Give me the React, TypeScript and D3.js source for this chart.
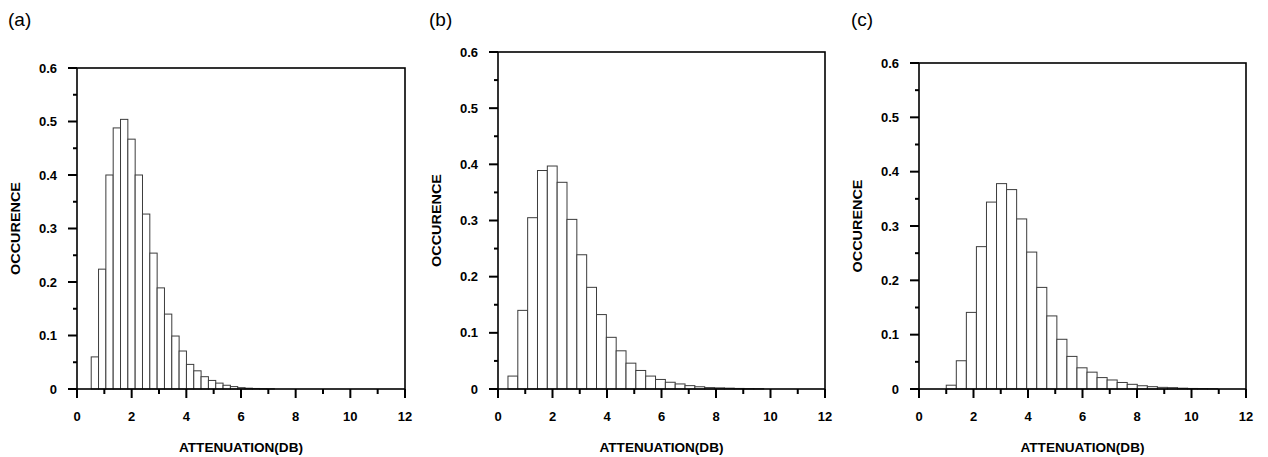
import React, { useEffect, useRef } from 'react';
import * as d3 from 'd3';

// histogram heights
const occurrenceA = [0.06, 0.224, 0.4, 0.488, 0.504, 0.467, 0.4, 0.327, 0.254, 0.189, 0.14, 0.099, 0.071, 0.046, 0.034, 0.023, 0.016, 0.011, 0.007, 0.0045, 0.0025, 0.0015, 0.001, 0.0006, 0.0004];
const occurrenceB = [0.023, 0.14, 0.305, 0.389, 0.397, 0.368, 0.302, 0.239, 0.181, 0.1325, 0.092, 0.068, 0.046, 0.033, 0.023, 0.017, 0.012, 0.009, 0.006, 0.004, 0.0025, 0.002, 0.0015, 0.001, 0.0007, 0.0005];
const occurrenceC = [0.007, 0.052, 0.141, 0.262, 0.344, 0.378, 0.367, 0.313, 0.252, 0.187, 0.1345, 0.0915, 0.06, 0.039, 0.031, 0.021, 0.0166, 0.012, 0.0086, 0.006, 0.0043, 0.003, 0.0025, 0.0015, 0.001, 0.0008, 0.0005];

// first bin edge and bin width (dB) of each histogram
const binStarts = [0.52, 0.366, 1.0];
const binWidths = [0.268, 0.361, 0.369];

const panelLabels = ['(a)', '(b)', '(c)'];
const xTicks = [0, 1, 2, 3, 4, 5, 6, 7, 8, 9, 10, 11, 12];
const yTicks = [0, 0.05, 0.1, 0.15, 0.2, 0.25, 0.3, 0.35, 0.4, 0.45, 0.5, 0.55, 0.6];
const xTitle = 'ATTENUATION(DB)';
const yTitle = 'OCCURENCE';

const App = () => {
  const svgRef = useRef(null);

  useEffect(() => {
    const svg = d3.select(svgRef.current);
    svg.selectAll('*').remove();

    const series = [occurrenceA, occurrenceB, occurrenceC];
    // plot boxes: left, right, top, bottom
    const boxes = [
      { l: 77, r: 405, t: 68, b: 389, lx: 8 },
      { l: 498, r: 825, t: 52, b: 389, lx: 429 },
      { l: 919, r: 1246, t: 63, b: 389, lx: 851 },
    ];
    const font = '"Liberation Sans", Arial, sans-serif';

    series.forEach((vals, i) => {
      const box = boxes[i];
      const x = d3.scaleLinear().domain([0, 12]).range([box.l, box.r]);
      const y = d3.scaleLinear().domain([0, 0.6]).range([box.b, box.t]);
      const g = svg.append('g');

      // bars
      g.selectAll('rect.bar')
        .data(vals)
        .enter()
        .append('rect')
        .attr('class', 'bar')
        .attr('x', (d, j) => x(binStarts[i] + j * binWidths[i]))
        .attr('y', d => y(d))
        .attr('width', x(binWidths[i]) - x(0))
        .attr('height', d => y(0) - y(d))
        .attr('fill', 'white')
        .attr('stroke', '#3c3c3c')
        .attr('stroke-width', 1);

      // frame
      g.append('rect')
        .attr('x', box.l)
        .attr('y', box.t)
        .attr('width', box.r - box.l)
        .attr('height', box.b - box.t)
        .attr('fill', 'none')
        .attr('stroke', '#000')
        .attr('stroke-width', 1.6);

      // x ticks
      g.selectAll('line.xt')
        .data(xTicks)
        .enter()
        .append('line')
        .attr('x1', d => x(d))
        .attr('x2', d => x(d))
        .attr('y1', box.b)
        .attr('y2', d => box.b + (d % 2 === 0 ? 9 : 5))
        .attr('stroke', '#000')
        .attr('stroke-width', 2);

      g.selectAll('text.xl')
        .data(xTicks.filter(d => d % 2 === 0))
        .enter()
        .append('text')
        .attr('x', d => x(d))
        .attr('y', box.b + 32)
        .attr('text-anchor', 'middle')
        .attr('font-family', font)
        .attr('font-weight', 'bold')
        .attr('font-size', 13)
        .text(d => d);

      // y ticks
      g.selectAll('line.yt')
        .data(yTicks)
        .enter()
        .append('line')
        .attr('x1', box.l)
        .attr('x2', (d, j) => box.l - (j % 2 === 0 ? 9 : 4))
        .attr('y1', d => y(d))
        .attr('y2', d => y(d))
        .attr('stroke', '#000')
        .attr('stroke-width', 2);

      g.selectAll('text.yl')
        .data(yTicks.filter((d, j) => j % 2 === 0))
        .enter()
        .append('text')
        .attr('x', box.l - 20)
        .attr('y', d => y(d) + 4.5)
        .attr('text-anchor', 'end')
        .attr('font-family', font)
        .attr('font-weight', 'bold')
        .attr('font-size', 13)
        .text(d => (d === 0 ? '0' : d3.format('.1f')(d)));

      // axis titles
      g.append('text')
        .attr('x', (box.l + box.r) / 2)
        .attr('y', 452)
        .attr('text-anchor', 'middle')
        .attr('font-family', font)
        .attr('font-weight', 'bold')
        .attr('font-size', 13)
        .attr('textLength', 124)
        .attr('lengthAdjust', 'spacingAndGlyphs')
        .text(xTitle);

      g.append('text')
        .attr('transform', `translate(${box.l - 57},${(box.t + box.b) / 2}) rotate(-90)`)
        .attr('text-anchor', 'middle')
        .attr('font-family', font)
        .attr('font-weight', 'bold')
        .attr('font-size', 13)
        .attr('textLength', 93)
        .attr('lengthAdjust', 'spacingAndGlyphs')
        .text(yTitle);

      // panel label
      g.append('text')
        .attr('x', box.lx)
        .attr('y', 26)
        .attr('font-family', font)
        .attr('font-size', 19)
        .text(panelLabels[i]);
    });
  }, []);

  return (
    <svg
      ref={svgRef}
      width={1268}
      height={457}
      style={{ position: 'absolute', left: 0, top: 0, background: 'white' }}
    />
  );
};

export default App;
